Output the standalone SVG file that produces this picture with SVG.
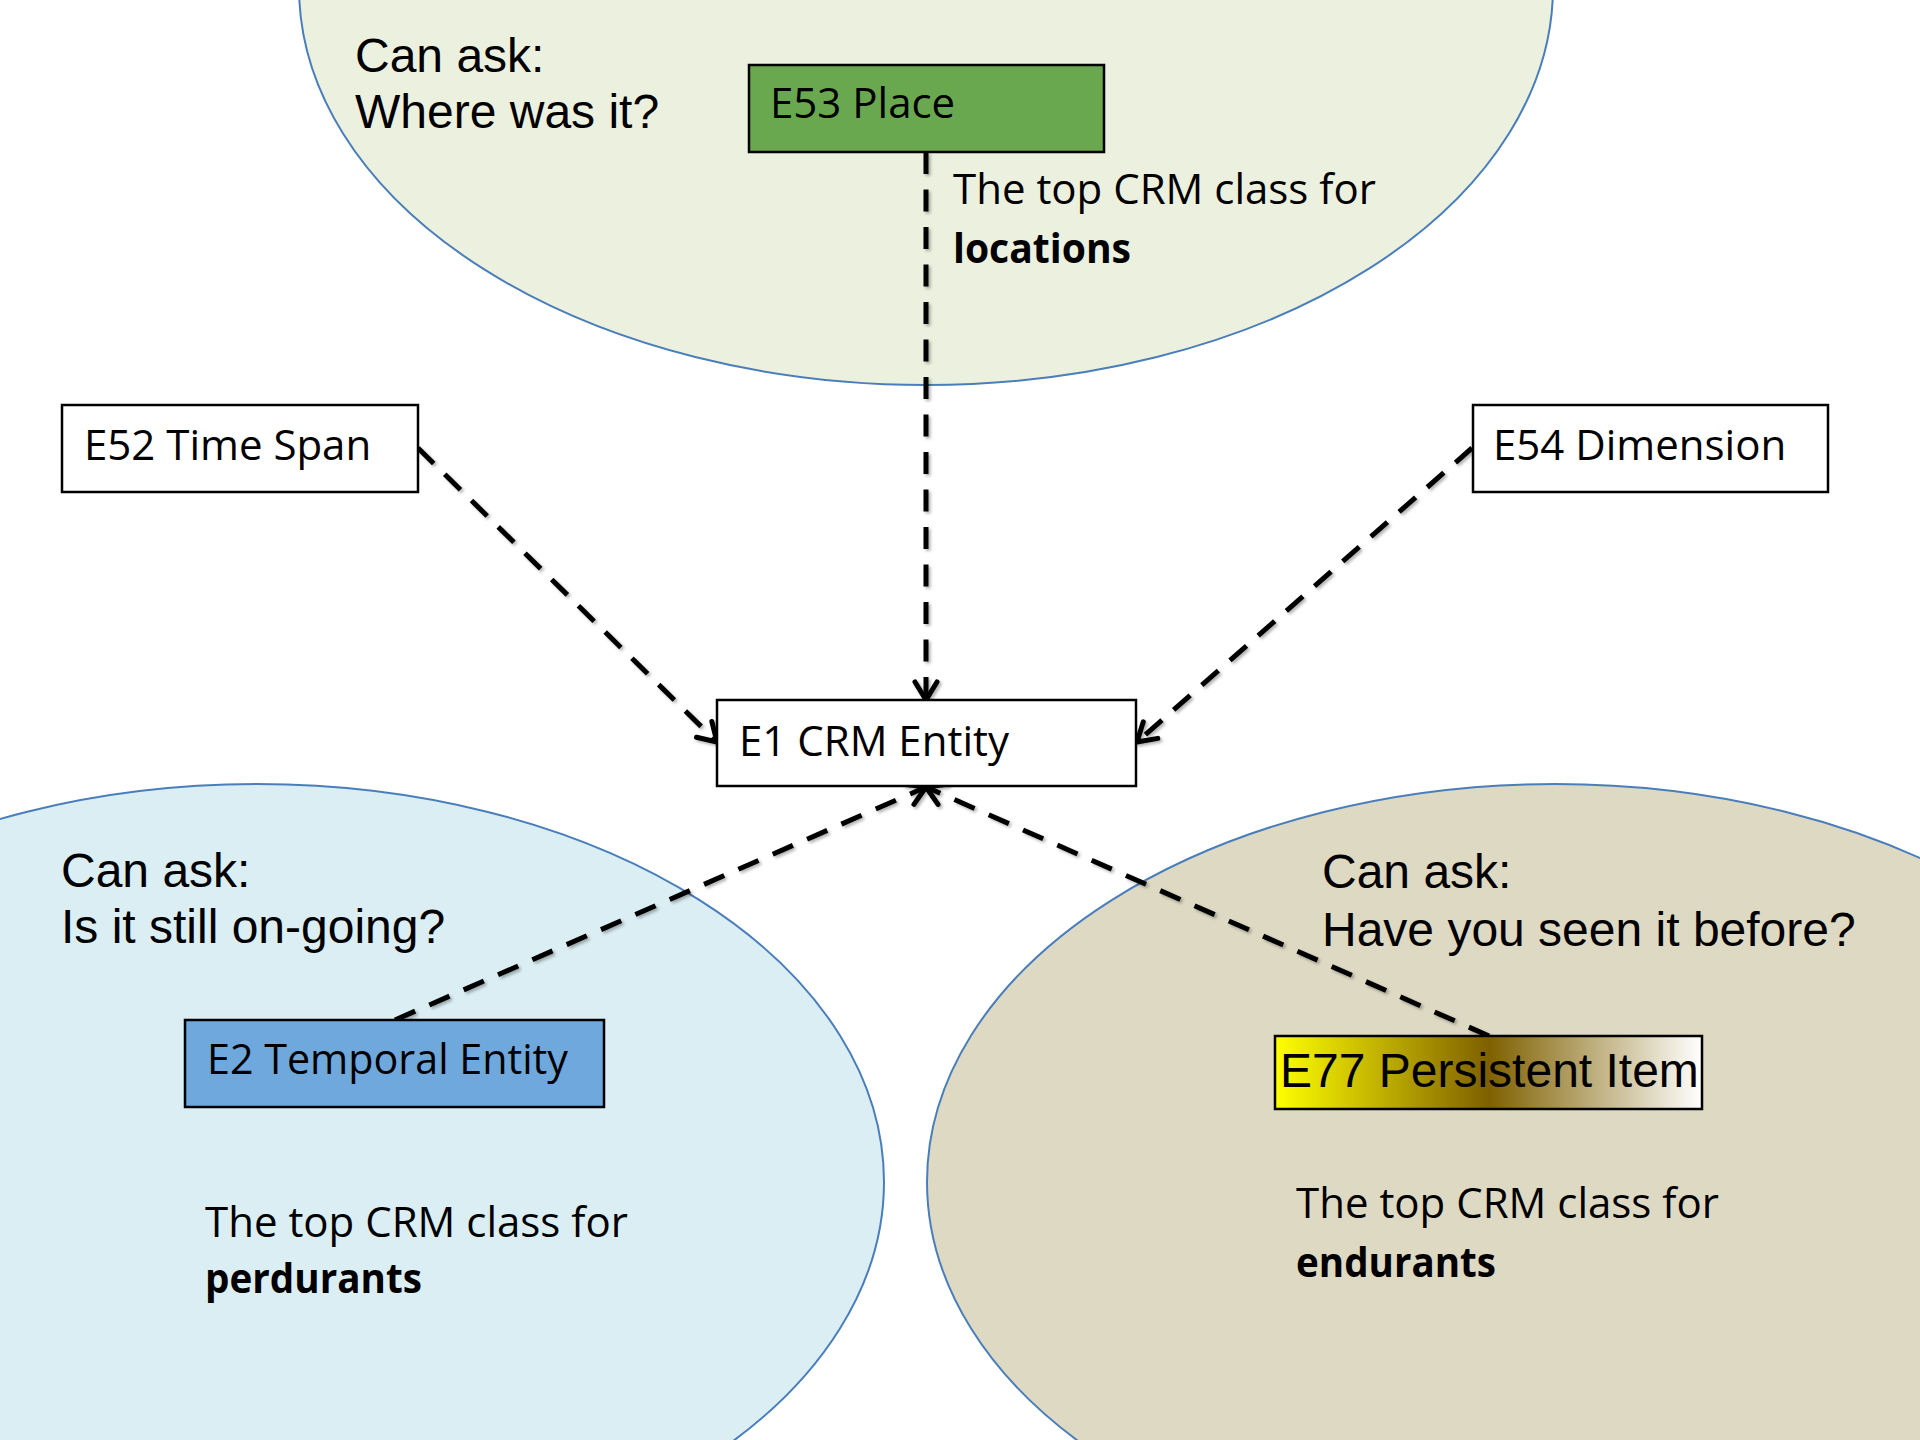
<svg xmlns="http://www.w3.org/2000/svg" width="1920" height="1440" viewBox="0 0 1920 1440">
<defs>
<style>
.ell{stroke:#4A7EBB;stroke-width:2}
.box{stroke:#000;stroke-width:2.5}
.cal{font-family:"Open Sans","Noto Sans",sans-serif;font-size:42px;fill:#000}
.ari{font-family:"Liberation Sans",Arial,sans-serif;font-size:48px;fill:#000}
.bold{font-weight:bold}
.conn{fill:none;stroke:#000;stroke-width:5;stroke-dasharray:22 15.5}
</style>
<linearGradient id="gold" x1="0" y1="0" x2="1" y2="0">
<stop offset="0" stop-color="#FFFF00"/>
<stop offset="0.5" stop-color="#7F6000"/>
<stop offset="1" stop-color="#FFFFFF"/>
</linearGradient>
<marker id="arr" markerUnits="userSpaceOnUse" viewBox="-25 -15 30 30" refX="0" refY="0" markerWidth="30" markerHeight="30" orient="auto">
<path d="M-18,-11 L0,0 L-18,11" fill="none" stroke="#000" stroke-width="5" stroke-linecap="round" stroke-linejoin="round"/>
</marker>
<filter id="sh" x="-10%" y="-10%" width="120%" height="120%">
<feDropShadow dx="2" dy="2" stdDeviation="1.5" flood-color="#000" flood-opacity="0.3"/>
</filter>
</defs>
<rect width="1920" height="1440" fill="#FFFFFF"/>
<g id="ellipse-top"><ellipse class="ell" cx="926" cy="-13" rx="627" ry="398" fill="#EBF1DE"/></g>
<g id="ellipse-left"><ellipse class="ell" cx="257" cy="1182" rx="627" ry="398" fill="#DAEEF3"/></g>
<g id="ellipse-right"><ellipse class="ell" cx="1555" cy="1182" rx="628" ry="398" fill="#DDD9C3"/></g>
<g id="texts-top">
<text class="ari" x="355" y="72">Can ask:</text>
<text class="ari" x="355" y="128">Where was it?</text>
<text class="cal" x="953" y="204">The top CRM class for</text>
<text class="cal bold" x="953" y="263" textLength="178" lengthAdjust="spacingAndGlyphs">locations</text>
</g>
<g id="texts-left">
<text class="ari" x="61" y="887">Can ask:</text>
<text class="ari" x="61" y="943">Is it still on-going?</text>
<text class="cal" x="205" y="1237">The top CRM class for</text>
<text class="cal bold" x="205" y="1293" textLength="217" lengthAdjust="spacingAndGlyphs">perdurants</text>
</g>
<g id="texts-right">
<text class="ari" x="1322" y="888">Can ask:</text>
<text class="ari" x="1322" y="946">Have you seen it before?</text>
<text class="cal" x="1296" y="1218">The top CRM class for</text>
<text class="cal bold" x="1296" y="1277" textLength="200" lengthAdjust="spacingAndGlyphs">endurants</text>
</g>
<g id="connectors" filter="url(#sh)">
<path class="conn" d="M926,152 L926,700" marker-end="url(#arr)"/>
<path class="conn" d="M418,448 L717,742" marker-end="url(#arr)"/>
<path class="conn" d="M1472,448 L1137,742" marker-end="url(#arr)"/>
<path class="conn" d="M395,1020 L926,787" marker-end="url(#arr)"/>
<path class="conn" d="M1489,1036 L926,787" marker-end="url(#arr)"/>
</g>
<g id="E53">
<rect class="box" x="749" y="65" width="355" height="87" fill="#6AA84F"/>
<text class="cal" x="770" y="118">E53 Place</text>
</g>
<g id="E52">
<rect class="box" x="62" y="405" width="356" height="87" fill="#FFFFFF"/>
<text class="cal" x="84" y="460">E52 Time Span</text>
</g>
<g id="E54">
<rect class="box" x="1473" y="405" width="355" height="87" fill="#FFFFFF"/>
<text class="cal" x="1493" y="460">E54 Dimension</text>
</g>
<g id="E1">
<rect class="box" x="717" y="700" width="419" height="86" fill="#FFFFFF"/>
<text class="cal" x="739" y="756">E1 CRM Entity</text>
</g>
<g id="E2">
<rect class="box" x="185" y="1020" width="419" height="87" fill="#6FA8DC"/>
<text class="cal" x="207" y="1074" textLength="361" lengthAdjust="spacingAndGlyphs">E2 Temporal Entity</text>
</g>
<g id="E77">
<rect class="box" x="1275" y="1036" width="427" height="73" fill="url(#gold)"/>
<text class="ari" x="1280" y="1087">E77 Persistent Item</text>
</g>
</svg>
